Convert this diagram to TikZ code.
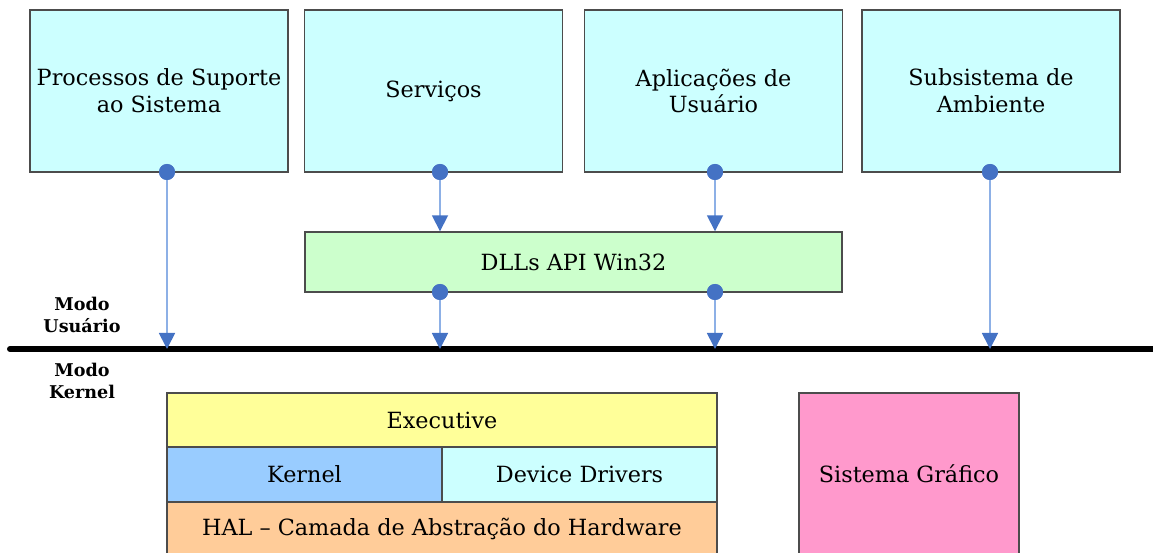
\documentclass[tikz,border=0pt]{standalone}
\usepackage{fontspec}
\setmainfont{DejaVu Serif}
\usetikzlibrary{arrows.meta}
\definecolor{ciano}{HTML}{CCFFFF}
\definecolor{verde}{HTML}{CCFFCC}
\definecolor{amarelo}{HTML}{FFFF99}
\definecolor{azul}{HTML}{99CCFF}
\definecolor{laranja}{HTML}{FFCC99}
\definecolor{rosa}{HTML}{FF99CC}
\definecolor{seta}{HTML}{4472C4}
\definecolor{setalinha}{HTML}{8DB0E6}
\begin{document}
\begin{tikzpicture}[
    box/.style={draw=black!70, line width=0.8pt, inner sep=2pt, align=center, font=\fontsize{12.7}{15.3}\selectfont},
    topbox/.style={box, fill=ciano, minimum width=5.16cm, minimum height=3.24cm},
    dot/.style={circle, fill=seta, inner sep=0pt, minimum size=0.32cm},
    conn/.style={draw=setalinha, line width=1pt, -{Triangle[width=0.32cm, length=0.32cm, color=seta, fill=seta]}},
    modo/.style={align=center, font=\fontsize{10}{13}\selectfont\bfseries}
]
    \useasboundingbox (0,0) rectangle (23.06,-11.06);

    \node[topbox] (suporte) at (3.18, -1.82) {Processos de Suporte\\ao Sistema};
    \node[topbox] (servicos) at (8.67, -1.82) {Serviços};
    \node[topbox] (aplic) at (14.27, -1.82) {Aplicações de\\Usuário};
    \node[topbox] (ambiente) at (19.82, -1.82) {Subsistema de\\Ambiente};

    \node[box, fill=verde, minimum width=10.74cm, minimum height=1.2cm] (dll) at (11.47, -5.24) {DLLs API Win32};

    \node[box, fill=amarelo, minimum width=11cm, minimum height=1.08cm] (exec) at (8.84, -8.40) {Executive};
    \node[box, fill=azul, minimum width=5.5cm, minimum height=1.1cm] (kernel) at (6.09, -9.49) {Kernel};
    \node[box, fill=ciano, minimum width=5.5cm, minimum height=1.1cm] (drivers) at (11.59, -9.49) {Device Drivers};
    \node[box, fill=laranja, minimum width=11cm, minimum height=1.08cm] (hal) at (8.84, -10.58) {HAL -- Camada de Abstração do Hardware};
    \node[box, fill=rosa, minimum width=4.4cm, minimum height=3.24cm] (grafico) at (18.18, -9.48) {Sistema Gráfico};

    % linha entre modo usuario e modo kernel
    \coordinate (linhaE) at (0.2, -6.98);
    \coordinate (linhaD) at (23.3, -6.98);
    \draw[line width=3.4pt, line cap=round] (linhaE) -- (linhaD);
    \node[modo] (usuario) at (1.64, -6.30) {Modo\\Usuário};
    \node[modo] (modok) at (1.64, -7.62) {Modo\\Kernel};

    % pontos de saida
    \node[dot] (d1) at (3.34, -3.44) {};
    \node[dot] (d2) at (8.80, -3.44) {};
    \node[dot] (d3) at (14.30, -3.44) {};
    \node[dot] (d4) at (19.80, -3.44) {};
    \node[dot] (d5) at (8.80, -5.84) {};
    \node[dot] (d6) at (14.30, -5.84) {};

    \draw[conn] (d1.center) -- (d1 |- linhaE);
    \draw[conn] (d2.center) -- (d2 |- dll.north);
    \draw[conn] (d3.center) -- (d3 |- dll.north);
    \draw[conn] (d4.center) -- (d4 |- linhaE);
    \draw[conn] (d5.center) -- (d5 |- linhaE);
    \draw[conn] (d6.center) -- (d6 |- linhaE);
    \foreach \d in {d1,d2,d3,d4,d5,d6} \node[dot] at (\d) {};
\end{tikzpicture}
\end{document}
